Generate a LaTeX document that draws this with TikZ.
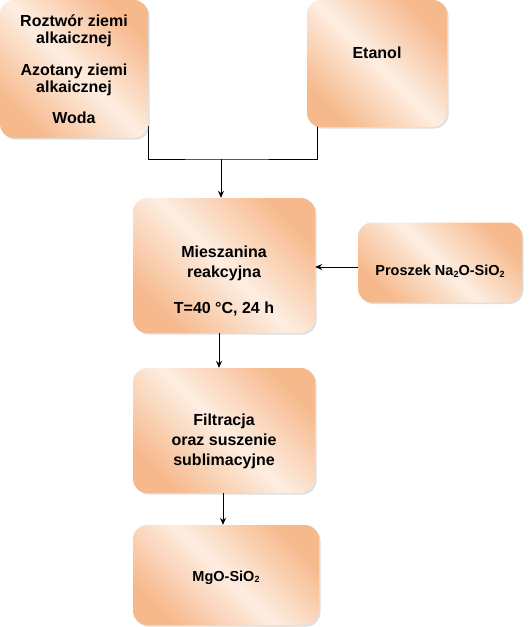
\documentclass[tikz,border=0pt]{standalone}
\usepackage{fontspec}
\setmainfont{Liberation Sans}
\usetikzlibrary{shadows,arrows.meta}
\pgfdeclarelayer{bg}\pgfsetlayers{bg,main}
\definecolor{boxor}{HTML}{F6B98C}
\definecolor{boxlt}{HTML}{FDEEE2}
\newcommand{\sbs}[1]{\raisebox{-1.6pt}{\fontsize{9}{9}\selectfont #1}}
\tikzset{
  box/.style={rounded corners=14pt, inner sep=0pt,
    left color=boxor, right color=boxor, middle color=boxlt, shading angle=135,
    drop shadow={opacity=0.25, shadow xshift=1.5pt, shadow yshift=-1.5pt}},
  txt/.style={align=center, font=\fontsize{16}{20}\selectfont\bfseries, inner sep=0pt},
  conn/.style={line width=0.8pt, black},
  arr/.style={conn, -{Stealth[length=7pt,width=6pt]}}
}
\begin{document}
\begin{tikzpicture}[x=1pt,y=-1pt]
\useasboundingbox (0,0) rectangle (532,627);
\node[box, minimum width=148pt, minimum height=138pt] (b1) at (74,69) {};
\node[box, minimum width=140pt, minimum height=127pt] (b2) at (377,63.5) {};
\node[box, minimum width=182pt, minimum height=135pt] (b3) at (224,265.5) {};
\node[box, minimum width=164pt, minimum height=80pt] (na) at (440,262.5) {};
\node[box, minimum width=182pt, minimum height=125pt] (b4) at (224,430.5) {};
\node[box, minimum width=186pt, minimum height=100pt] (b5) at (226,575) {};

\node[txt, font=\fontsize{16}{17.5}\selectfont\bfseries] (t1) at (b1.center) {Roztwór ziemi\\alkaicznej\\[14pt]Azotany ziemi\\alkaicznej\\[13pt]Woda};
\node[txt] (t2) at ([yshift=11pt]b2.center) {Etanol};
\node[txt] (t3) at ([yshift=-15pt]b3.center) {Mieszanina\\reakcyjna\\[16pt]T=40 °C, 24 h};
\node[txt, font=\fontsize{14.5}{18}\selectfont\bfseries] (tna) at ([yshift=-8.5pt]na.center) {Proszek Na\sbs{2}O-SiO\sbs{2}};
\node[txt] (t4) at ([yshift=-11pt]b4.center) {Filtracja\\oraz suszenie\\sublimacyjne};
\node[txt, font=\fontsize{14.5}{18}\selectfont\bfseries] (t5) at ([yshift=-2.5pt]b5.center) {MgO-SiO\sbs{2}};

\coordinate (j) at (221,159);
\begin{pgfonlayer}{bg}
\draw[conn] ([yshift=12pt]b1.south east) |- (j) -| ([xshift=11pt,yshift=4pt]b2.south west);
\end{pgfonlayer}
\draw[arr] (j) -- (j |- b3.north);
\draw[arr] (na.west |- 0,267) -- (b3.east |- 0,267);
\draw[arr] ([xshift=-5pt]b3.south) -- ([xshift=-5pt]b3.south |- b4.north);
\draw[arr] ([xshift=-1pt]b4.south) -- ([xshift=-1pt]b4.south |- b5.north);
\end{tikzpicture}
\end{document}
